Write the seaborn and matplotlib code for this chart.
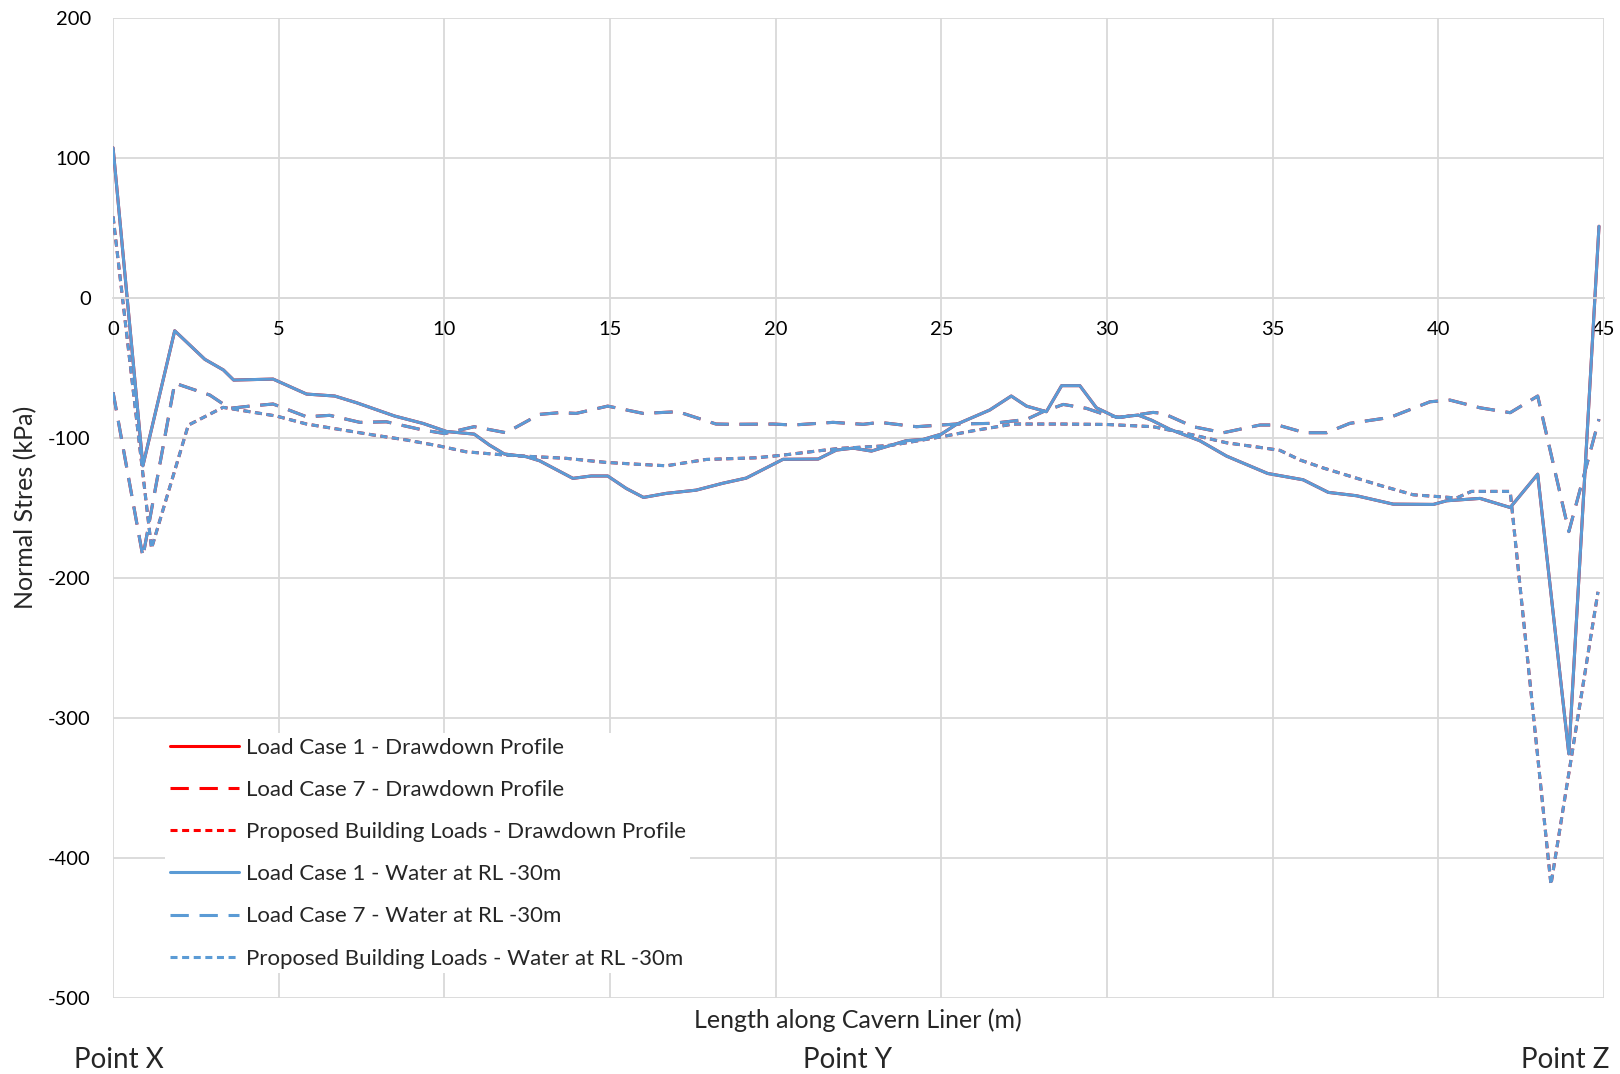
import seaborn as sns
import matplotlib.pyplot as plt
import numpy as np

# Load Case 1 (solid)
lc1_x = [0.0, 0.9, 1.86, 2.77, 3.33, 3.64, 4.83, 5.84, 6.69, 7.35, 8.5, 9.36, 10.06,
         10.9, 11.36, 11.81, 12.47, 12.87, 13.88, 14.43, 14.93, 15.49, 16.01, 16.7,
         17.6, 18.4, 19.11, 20.22, 21.28, 21.83, 22.34, 22.89, 23.94, 24.45, 25.0,
         25.45, 26.46, 27.11, 27.57, 28.17, 28.63, 29.18, 29.68, 30.29, 30.94, 31.34,
         31.9, 32.8, 33.61, 34.85, 35.92, 36.68, 37.53, 38.64, 39.85, 40.25, 41.26,
         42.17, 43.0, 43.94, 44.85]
lc1_y = [107, -120, -23.6, -44, -51.6, -58.8, -58.1, -68.8, -70.2, -75, -84.5, -89.8, -95.5,
         -97.4, -105.2, -111.6, -113.5, -116.4, -129, -127.3, -127.3, -136.2, -142.6, -139.7,
         -137.4, -132.5, -128.8, -115.4, -115.2, -108.8, -107.4, -109.5, -102.1, -101.2, -97.4,
         -90.5, -80.2, -70.2, -77.4, -81.4, -62.8, -62.8, -78.6, -85.5, -83.8, -87.4,
         -94, -102.1, -113.1, -125.5, -130, -139, -141.4, -147.4, -147.6, -145, -143.3,
         -149.8, -126, -325.7, 51]

# Load Case 7 (long dash)
lc7_x = [0.0, 0.9, 1.86, 2.92, 3.52, 4.13, 4.83, 5.84, 6.54, 7.45, 8.25, 9.36, 10.01,
         10.9, 11.86, 12.87, 13.47, 13.98, 14.93, 16.0, 17.05, 18.2, 18.71, 19.92, 20.52,
         21.73, 22.64, 23.14, 24.25, 25.45, 26.56, 27.57, 28.07, 28.68, 29.38, 29.98,
         30.39, 31.39, 31.7, 32.6, 33.51, 34.62, 35.15, 35.97, 36.63, 37.33, 38.54,
         39.75, 40.35, 41.26, 42.17, 43.0, 43.94, 44.85]
lc7_y = [-67.5, -185, -61, -69.5, -79, -77.4, -75.9, -85, -84, -89, -88.6, -94.5, -97,
         -92.1, -96.4, -83.3, -82.1, -82.6, -77.4, -82.6, -81.4, -90.2, -90.4, -90.2, -90.9,
         -89, -90.4, -89, -92.1, -90.2, -89.7, -86.9, -81.4, -76.2, -79, -83.8,
         -85.5, -81.9, -82.6, -92.1, -96.4, -90.9, -90.9, -96.4, -96.4, -89.7, -85.5,
         -74.3, -73.1, -78.6, -82.1, -70.2, -167, -86.7]

# Proposed Building Loads (short dash)
pbl_x = [0.0, 1.16, 2.27, 3.32, 4.93, 5.84, 7.85, 8.86, 9.85, 10.65, 11.86, 13.68, 14.88,
         15.89, 16.7, 17.9, 19.42, 20.22, 21.23, 21.93, 23.14, 23.54, 25.0, 25.96, 27.17,
         28.58, 29.98, 31.39, 32.6, 33.61, 34.62, 35.22, 35.83, 36.53, 38.24, 39.24,
         40.55, 41.0, 42.17, 43.4, 44.82]
pbl_y = [58, -179, -91, -78.3, -84.5, -90.2, -98, -101.6, -105.9, -110, -112.4, -114.7, -117.6,
         -119, -120, -115.5, -114.3, -112.4, -109.5, -107.6, -106, -105.2, -99.3, -95, -90.2,
         -90.2, -90.5, -92.1, -98, -103.6, -106.9, -109, -115.9, -121.6, -134, -140.7,
         -143, -138.3, -138.3, -419, -210]

# the drawdown and water-level series coincide in the chart
series = [
    ("Load Case 1 - Drawdown Profile", lc1_x, lc1_y, "#FF0000", "-"),
    ("Load Case 7 - Drawdown Profile", lc7_x, lc7_y, "#FF0000", (0, (6, 3.5))),
    ("Proposed Building Loads - Drawdown Profile", pbl_x, pbl_y, "#FF0000", (0, (2.3, 1.5))),
    ("Load Case 1 - Water at RL -30m", lc1_x, lc1_y, "#5B9BD5", "-"),
    ("Load Case 7 - Water at RL -30m", lc7_x, lc7_y, "#5B9BD5", (0, (6, 3.5))),
    ("Proposed Building Loads - Water at RL -30m", pbl_x, pbl_y, "#5B9BD5", (0, (2.3, 1.5))),
]

x_ticks = np.arange(0, 46, 5)
y_ticks = np.arange(-500, 201, 100)

sns.set_style("white")
plt.rcParams["font.family"] = ["Lato", "DejaVu Sans"]
plt.rcParams["axes.unicode_minus"] = False

fig = plt.figure(figsize=(16.2, 10.74), dpi=100)
ax = fig.add_axes([0.0698, 0.0708, 0.9203, 0.9128])

for label, xs, ys, color, ls in series:
    sns.lineplot(x=xs, y=ys, ax=ax, color=color, linestyle=ls, linewidth=2.2,
                 label=label, sort=False, estimator=None)

ax.set_xlim(0, 45)
ax.set_ylim(-500, 200)
ax.set_xticks(x_ticks)
ax.set_yticks(y_ticks)
ax.grid(True, color="#D9D9D9", linewidth=1.3)
ax.set_axisbelow(True)
for side in ["top", "right", "left"]:
    ax.spines[side].set_visible(False)
ax.spines["bottom"].set_position(("data", 0))
ax.spines["bottom"].set_color("#D9D9D9")
ax.spines["bottom"].set_linewidth(1.3)
ax.tick_params(axis="both", length=0, labelsize=14.5, colors="black")
ax.tick_params(axis="y", pad=16)
ax.tick_params(axis="x", pad=17)
ax.set_xlabel("")
ax.set_ylabel("")

fig.text(0.016, 0.528, "Normal Stres (kPa)", rotation=90, ha="center", va="center", fontsize=18)
fig.text(0.5297, 0.050, "Length along Cavern Liner (m)", ha="center", va="center", fontsize=18)
fig.text(0.0735, 0.013, "Point X", ha="center", va="center", fontsize=20)
fig.text(0.523, 0.013, "Point Y", ha="center", va="center", fontsize=20)
fig.text(0.966, 0.013, "Point Z", ha="center", va="center", fontsize=20)

leg = ax.legend(loc="upper left", bbox_to_anchor=(0.0951, 0.3277), bbox_transform=fig.transFigure,
                fontsize=16, frameon=True, fancybox=False, framealpha=1, facecolor="white",
                edgecolor="none", handlelength=3.1, handletextpad=0.33, labelspacing=1.0,
                borderpad=0.2)

fig.savefig("out.png", dpi=100)
